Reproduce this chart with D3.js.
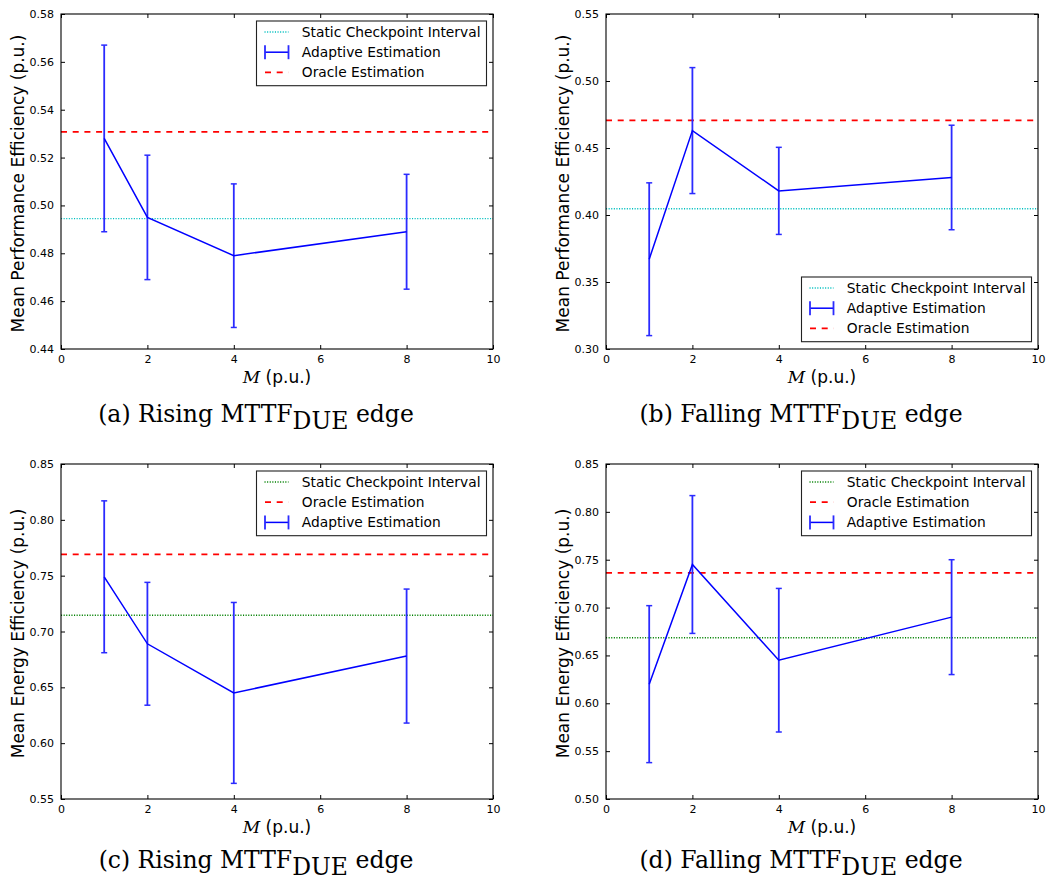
<!DOCTYPE html>
<html>
<head>
<meta charset="utf-8">
<script src="https://cdn.jsdelivr.net/npm/d3@7"></script>
<style>
  html, body { margin: 0; padding: 0; background: #fff; }
  svg { display: block; }
  .tick-label { font-family: "DejaVu Sans", sans-serif; font-size: 11px; fill: #000; }
</style>
</head>
<body>
<svg id="fig" width="1052" height="882"></svg>
<script>
// Checkpoint interval parameter M (p.u.)
const mValues = [1, 2, 4, 8];
const xTicks = [0, 2, 4, 6, 8, 10];

// (a) Performance efficiency, rising MTTF_DUE edge
const perfRiseMean  = [0.528, 0.495, 0.479, 0.489];
const perfRiseUpper = [0.567, 0.521, 0.509, 0.513];
const perfRiseLower = [0.489, 0.469, 0.449, 0.465];
const perfRiseStatic = 0.4945;
const perfRiseOracle = 0.5307;
const perfRiseTicks = [0.44, 0.46, 0.48, 0.50, 0.52, 0.54, 0.56, 0.58];

// (b) Performance efficiency, falling MTTF_DUE edge
const perfFallMean  = [0.367, 0.463, 0.418, 0.428];
const perfFallUpper = [0.424, 0.510, 0.4505, 0.467];
const perfFallLower = [0.310, 0.416, 0.3855, 0.389];
const perfFallStatic = 0.4047;
const perfFallOracle = 0.4706;
const perfFallTicks = [0.30, 0.35, 0.40, 0.45, 0.50, 0.55];

// (c) Energy efficiency, rising MTTF_DUE edge
const energyRiseMean  = [0.749, 0.689, 0.645, 0.678];
const energyRiseUpper = [0.817, 0.744, 0.726, 0.738];
const energyRiseLower = [0.681, 0.634, 0.564, 0.618];
const energyRiseStatic = 0.7146;
const energyRiseOracle = 0.769;
const energyRiseTicks = [0.55, 0.60, 0.65, 0.70, 0.75, 0.80, 0.85];

// (d) Energy efficiency, falling MTTF_DUE edge
const energyFallMean  = [0.620, 0.745, 0.645, 0.690];
const energyFallUpper = [0.702, 0.817, 0.720, 0.750];
const energyFallLower = [0.538, 0.673, 0.570, 0.630];
const energyFallStatic = 0.6684;
const energyFallOracle = 0.7362;
const energyFallTicks = [0.50, 0.55, 0.60, 0.65, 0.70, 0.75, 0.80, 0.85];

const legendStatic = "Static Checkpoint Interval";
const legendAdaptive = "Adaptive Estimation";
const legendOracle = "Oracle Estimation";

const panels = [
  { left: 61, top: 14, yLabel: "Mean Performance Efficiency (p.u.)",
    mean: perfRiseMean, upper: perfRiseUpper, lower: perfRiseLower,
    staticVal: perfRiseStatic, oracleVal: perfRiseOracle, yTicks: perfRiseTicks,
    staticColor: "#00bfbf", legendPos: "top",
    legendOrder: ["static", "adaptive", "oracle"],
    tag: "(a) ", edge: "Rising ", capY: 73 },
  { left: 606, top: 14, yLabel: "Mean Performance Efficiency (p.u.)",
    mean: perfFallMean, upper: perfFallUpper, lower: perfFallLower,
    staticVal: perfFallStatic, oracleVal: perfFallOracle, yTicks: perfFallTicks,
    staticColor: "#00bfbf", legendPos: "bottom",
    legendOrder: ["static", "adaptive", "oracle"],
    tag: "(b) ", edge: "Falling ", capY: 73 },
  { left: 61, top: 464, yLabel: "Mean Energy Efficiency (p.u.)",
    mean: energyRiseMean, upper: energyRiseUpper, lower: energyRiseLower,
    staticVal: energyRiseStatic, oracleVal: energyRiseOracle, yTicks: energyRiseTicks,
    staticColor: "#008000", legendPos: "top",
    legendOrder: ["static", "oracle", "adaptive"],
    tag: "(c) ", edge: "Rising ", capY: 69 },
  { left: 606, top: 464, yLabel: "Mean Energy Efficiency (p.u.)",
    mean: energyFallMean, upper: energyFallUpper, lower: energyFallLower,
    staticVal: energyFallStatic, oracleVal: energyFallOracle, yTicks: energyFallTicks,
    staticColor: "#008000", legendPos: "top",
    legendOrder: ["static", "oracle", "adaptive"],
    tag: "(d) ", edge: "Falling ", capY: 69 }
];

const W = 432, H = 335;
const svg = d3.select("#fig");
const errColor = "#2b2bff";
const lineColor = "#0000ff";
const oracleColor = "#ff0000";

panels.forEach((p, i) => {
  const g = svg.append("g").attr("transform", `translate(${p.left},${p.top})`);
  const x = d3.scaleLinear().domain([0, 10]).range([0, W]);
  const y = d3.scaleLinear().domain([p.yTicks[0], p.yTicks[p.yTicks.length - 1]]).range([H, 0]);

  const clipId = "clip" + i;
  g.append("clipPath").attr("id", clipId).append("rect").attr("width", W).attr("height", H);
  const plot = g.append("g").attr("clip-path", `url(#${clipId})`);

  // reference lines
  plot.append("line")
    .attr("x1", 0).attr("x2", W)
    .attr("y1", y(p.staticVal)).attr("y2", y(p.staticVal))
    .attr("stroke", p.staticColor).attr("stroke-width", 1.4)
    .attr("stroke-dasharray", "1.1,1.5");
  plot.append("line")
    .attr("x1", 0).attr("x2", W)
    .attr("y1", y(p.oracleVal)).attr("y2", y(p.oracleVal))
    .attr("stroke", oracleColor).attr("stroke-width", 1.8)
    .attr("stroke-dasharray", "6,5.7");

  // error bars
  const pts = mValues.map((m, k) => ({ m, mean: p.mean[k], up: p.upper[k], lo: p.lower[k] }));
  const eb = plot.append("g").selectAll("g").data(pts).join("g");
  eb.append("line")
    .attr("x1", d => x(d.m)).attr("x2", d => x(d.m))
    .attr("y1", d => y(d.up)).attr("y2", d => y(d.lo))
    .attr("stroke", errColor).attr("stroke-width", 1.8);
  ["up", "lo"].forEach(key => {
    eb.append("line")
      .attr("x1", d => x(d.m) - 3).attr("x2", d => x(d.m) + 3)
      .attr("y1", d => y(d[key])).attr("y2", d => y(d[key]))
      .attr("stroke", errColor).attr("stroke-width", 1.5);
  });

  // mean line
  plot.append("path")
    .datum(pts)
    .attr("fill", "none")
    .attr("stroke", lineColor).attr("stroke-width", 1.5)
    .attr("d", d3.line().x(d => x(d.m)).y(d => y(d.mean)));

  // axes with inward ticks on all four sides
  const fmt = d3.format(".2f");
  const axB = g.append("g").attr("transform", `translate(0,${H})`)
    .call(d3.axisBottom(x).tickValues(xTicks).tickSizeInner(-4).tickSizeOuter(0).tickPadding(6).tickFormat(d3.format("d")));
  const axT = g.append("g")
    .call(d3.axisTop(x).tickValues(xTicks).tickSizeInner(-4).tickSizeOuter(0).tickFormat(""));
  const axL = g.append("g")
    .call(d3.axisLeft(y).tickValues(p.yTicks).tickSizeInner(-4).tickSizeOuter(0).tickPadding(7).tickFormat(fmt));
  const axR = g.append("g").attr("transform", `translate(${W},0)`)
    .call(d3.axisRight(y).tickValues(p.yTicks).tickSizeInner(-4).tickSizeOuter(0).tickFormat(""));
  [axB, axT, axL, axR].forEach(a => {
    a.select(".domain").remove();
    a.selectAll(".tick line").attr("stroke", "#000").attr("stroke-width", 1);
    a.selectAll("text").attr("class", "tick-label").attr("font-family", null).attr("font-size", null);
  });

  // frame
  g.append("rect").attr("width", W).attr("height", H)
    .attr("fill", "none").attr("stroke", "#000").attr("stroke-width", 1.1);

  // axis titles
  g.append("text")
    .attr("transform", `translate(${-37},${H / 2 + 2}) rotate(-90)`)
    .attr("text-anchor", "middle")
    .attr("font-family", "DejaVu Sans, sans-serif").attr("font-size", 17)
    .text(p.yLabel);
  const xl = g.append("text")
    .attr("x", W / 2).attr("y", H + 34)
    .attr("text-anchor", "middle")
    .attr("font-family", "DejaVu Sans, sans-serif").attr("font-size", 17);
  xl.append("tspan").attr("font-family", "DejaVu Serif, serif").attr("font-style", "italic").text("M");
  xl.append("tspan").text(" (p.u.)");

  // legend
  const LW = 230, LH = 64.7;
  const lx = W - 6.5 - LW;
  const ly = p.legendPos === "bottom" ? H - 7.3 - LH : 7;
  const lg = g.append("g").attr("transform", `translate(${lx},${ly})`);
  lg.append("rect").attr("width", LW).attr("height", LH)
    .attr("fill", "#fff").attr("stroke", "#222").attr("stroke-width", 1.1);
  const labels = { static: legendStatic, adaptive: legendAdaptive, oracle: legendOracle };
  p.legendOrder.forEach((key, r) => {
    const cy = 11 + r * 20.2;
    const row = lg.append("g").attr("transform", `translate(0,${cy})`);
    if (key === "static") {
      row.append("line").attr("x1", 8).attr("x2", 32).attr("y1", 0).attr("y2", 0)
        .attr("stroke", p.staticColor).attr("stroke-width", 1.4).attr("stroke-dasharray", "1.1,1.5");
    } else if (key === "oracle") {
      row.append("line").attr("x1", 8.5).attr("x2", 32).attr("y1", 0).attr("y2", 0)
        .attr("stroke", oracleColor).attr("stroke-width", 1.8).attr("stroke-dasharray", "6,5.7");
    } else {
      row.append("line").attr("x1", 8.5).attr("x2", 32).attr("y1", 0).attr("y2", 0)
        .attr("stroke", lineColor).attr("stroke-width", 1.5);
      [8.5, 32].forEach(cx => {
        row.append("line").attr("x1", cx).attr("x2", cx).attr("y1", -7).attr("y2", 7)
          .attr("stroke", errColor).attr("stroke-width", 1.8);
      });
    }
    row.append("text").attr("x", 45.3).attr("y", 5)
      .attr("font-family", "DejaVu Sans, sans-serif").attr("font-size", 13.8)
      .text(labels[key]);
  });

  // sub-figure caption
  const cap = g.append("text")
    .attr("x", 195).attr("y", H + p.capY)
    .attr("text-anchor", "middle")
    .attr("font-family", "DejaVu Serif, serif").attr("font-size", 23.5);
  cap.append("tspan").text(p.tag + p.edge + "MTTF");
  cap.append("tspan").attr("dy", 7).text("DUE");
  cap.append("tspan").attr("dy", -7).text(" edge");
});
</script>
</body>
</html>
